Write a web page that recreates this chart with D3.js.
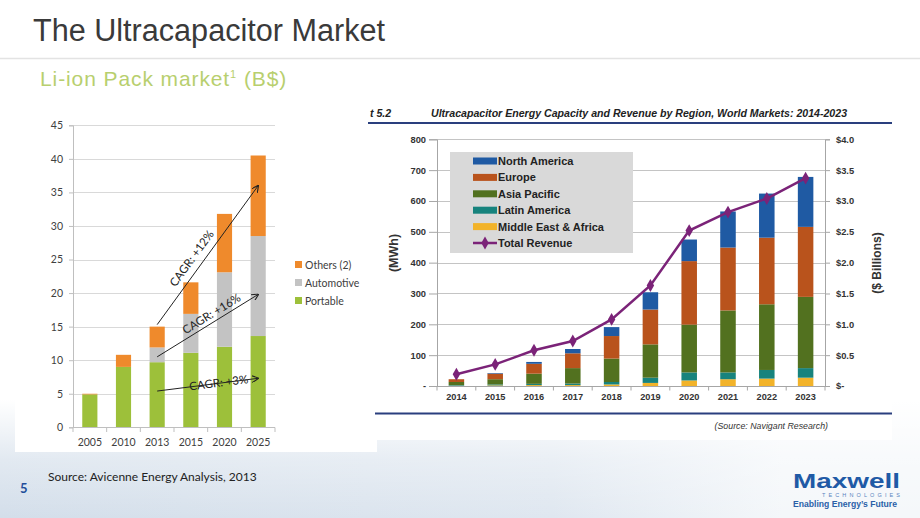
<!DOCTYPE html>
<html><head><meta charset="utf-8">
<script src="https://cdn.jsdelivr.net/npm/d3@7"></script>
<style>
html,body{margin:0;padding:0;background:#fff;}
svg{display:block;}
</style></head>
<body>
<svg id="c" width="920" height="518"></svg>
<script>
// ---------- DATA: left chart (Li-ion pack market, B$) ----------
const leftYears = ["2005","2010","2013","2015","2020","2025"];
const portable   = [4.9, 9.0, 9.7, 11.1, 12.0, 13.6];
const automotive = [0.0, 0.0, 2.2, 5.8, 11.1, 14.9];
const others     = [0.1, 1.8, 3.1, 4.7, 8.7, 12.0];
const leftTicks  = [0,5,10,15,20,25,30,35,40,45];
const leftSeries = ["Portable","Automotive","Others (2)"];
const cagrLabels = ["CAGR: +12%","CAGR: +16%","CAGR: +3%"];
const cagrStart  = [15.3, 10.5, 5.4];
const cagrEnd    = [36.0, 19.8, 7.3];

// ---------- DATA: right chart (Ultracapacitor MWh & revenue) ----------
const rightYears   = ["2014","2015","2016","2017","2018","2019","2020","2021","2022","2023"];
const middleEast   = [1, 2, 3, 3, 5, 10, 18, 22, 24, 27];
const latinAmerica = [2, 3, 4, 5, 8, 17, 26, 22, 28, 31];
const asiaPacific  = [10, 17, 33, 50, 76, 108, 155, 201, 213, 231];
const europe       = [9, 18, 32, 48, 73, 113, 206, 204, 216, 227];
const northAmerica = [0, 2, 6, 14, 29, 56, 70, 117, 143, 162];
const revenue      = [0.19, 0.35, 0.58, 0.73, 1.08, 1.63, 2.52, 2.82, 3.04, 3.37];
const mwhTicks     = [0,100,200,300,400,500,600,700,800];
const revTicks     = [0,0.5,1,1.5,2,2.5,3,3.5,4];
const rightSeries  = ["Middle East & Africa","Latin America","Asia Pacific","Europe","North America"];
const legendOrder  = ["North America","Europe","Asia Pacific","Latin America","Middle East & Africa","Total Revenue"];

const svg = d3.select("#c");
const defs = svg.append("defs");

// ---------- background ----------
const gH = defs.append("linearGradient").attr("id","gh").attr("x1","0").attr("x2","1").attr("y1","0").attr("y2","0");
gH.append("stop").attr("offset","0").attr("stop-color","#d3deea");
gH.append("stop").attr("offset","0.6").attr("stop-color","#dfe7f0");
gH.append("stop").attr("offset","0.85").attr("stop-color","#f4f7fa");
gH.append("stop").attr("offset","1").attr("stop-color","#f4f7fa");
const gV = defs.append("linearGradient").attr("id","gv").attr("x1","0").attr("x2","0").attr("y1","0").attr("y2","1");
gV.append("stop").attr("offset","0").attr("stop-color","#fff").attr("stop-opacity",1);
gV.append("stop").attr("offset","0.5").attr("stop-color","#fff").attr("stop-opacity",0.35);
gV.append("stop").attr("offset","1").attr("stop-color","#fff").attr("stop-opacity",0);
svg.append("rect").attr("x",0).attr("y",0).attr("width",920).attr("height",518).attr("fill","#fff");
svg.append("rect").attr("x",0).attr("y",400).attr("width",920).attr("height",118).attr("fill","url(#gh)");
svg.append("rect").attr("x",0).attr("y",400).attr("width",920).attr("height",118).attr("fill","url(#gv)");

// header
svg.append("text").attr("x",33).attr("y",41).attr("font-family","Liberation Sans, Arial, sans-serif")
  .attr("font-size",30.6).attr("fill","#3a3a3a").text("The Ultracapacitor Market");
svg.append("line").attr("x1",0).attr("x2",920).attr("y1",58.5).attr("y2",58.5).attr("stroke","#e3e3e3").attr("stroke-width",1.5);
const sub = svg.append("text").attr("x",40).attr("y",86).attr("font-family","Liberation Sans, Arial, sans-serif")
  .attr("font-size",21).attr("letter-spacing",0.9).attr("fill","#b8cf6e");
sub.append("tspan").text("Li-ion Pack market");
sub.append("tspan").attr("font-size",11).attr("dy",-8).text("1");
sub.append("tspan").attr("dy",8).text(" (B$)");

// ---------- LEFT CHART ----------
svg.append("rect").attr("x",15).attr("y",108).attr("width",362).attr("height",344).attr("fill","#fff");
const L = svg.append("g").attr("font-family","Lato, 'Open Sans', sans-serif");
const lx = d3.scaleBand().domain(leftYears).range([73,275]).paddingInner(0.55).paddingOuter(0.275);
const ly = d3.scaleLinear().domain([0,45]).range([427.3,125.3]);
const lColors = {"Portable":"#9dc03a","Automotive":"#c3c3c3","Others (2)":"#ef8a2c"};
// grid
L.append("g").selectAll("line").data(leftTicks.filter(d=>d>0)).join("line")
  .attr("x1",73).attr("x2",275).attr("y1",d=>Math.round(ly(d))+0.5).attr("y2",d=>Math.round(ly(d))+0.5)
  .attr("stroke","#d9d9d9").attr("stroke-width",1);
const lAxisY = L.append("g").attr("transform","translate(73,0)")
  .call(d3.axisLeft(ly).tickValues(leftTicks).tickSize(4).tickPadding(6));
lAxisY.select(".domain").attr("stroke","#bfbfbf");
lAxisY.selectAll(".tick line").attr("stroke","#bfbfbf");
lAxisY.selectAll("text").attr("font-size",10.5).attr("fill","#404040").attr("font-family","Lato, sans-serif");

const leftRows = leftYears.map((y,i)=>({year:y,"Portable":portable[i],"Automotive":automotive[i],"Others (2)":others[i]}));
const lStack = d3.stack().keys(leftSeries)(leftRows);
L.append("g").selectAll("g").data(lStack).join("g").attr("fill",d=>lColors[d.key])
  .selectAll("rect").data(d=>d).join("rect")
  .attr("x",d=>lx(d.data.year)).attr("width",lx.bandwidth())
  .attr("y",d=>ly(d[1])).attr("height",d=>Math.max(0,ly(d[0])-ly(d[1])));

// x axis
L.append("line").attr("x1",73).attr("x2",275).attr("y1",427.5).attr("y2",427.5).attr("stroke","#bfbfbf");
const lstep = lx.step();
L.append("g").selectAll("line").data(d3.range(leftYears.length+1)).join("line")
  .attr("x1",i=>73+i*lstep).attr("x2",i=>73+i*lstep).attr("y1",427.5).attr("y2",432)
  .attr("stroke","#bfbfbf");
L.append("g").selectAll("text").data(leftYears).join("text")
  .attr("x",d=>lx(d)+lx.bandwidth()/2).attr("y",446).attr("text-anchor","middle")
  .attr("font-size",10.5).attr("fill","#404040").text(d=>d);

// legend
const lLeg = L.append("g");
["Others (2)","Automotive","Portable"].forEach((k,i)=>{
  const yy = 265 + i*18;
  lLeg.append("rect").attr("x",295).attr("y",yy-4).attr("width",7).attr("height",7).attr("fill",lColors[k]);
  lLeg.append("text").attr("x",305).attr("y",yy+3.5).attr("font-size",10.5).attr("fill","#404040").text(k);
});

// CAGR arrows
defs.append("marker").attr("id","arr").attr("viewBox","0 0 10 10").attr("refX",9).attr("refY",5)
  .attr("markerWidth",7).attr("markerHeight",7).attr("orient","auto")
  .append("path").attr("d","M0,0 L10,5 L0,10").attr("fill","none").attr("stroke","#222").attr("stroke-width",1.6);
const x0 = lx("2013")+lx.bandwidth()/2, x1 = lx("2025")+lx.bandwidth()/2;
const tpos = [0.43,0.58,0.61], toff=[-7,-4,3.5];
cagrLabels.forEach((lab,i)=>{
  const y0 = ly(cagrStart[i]), y1 = ly(cagrEnd[i]);
  L.append("line").attr("x1",x0).attr("y1",y0).attr("x2",x1).attr("y2",y1)
    .attr("stroke","#222").attr("stroke-width",1).attr("marker-end","url(#arr)");
  const ang = Math.atan2(y1-y0,x1-x0)*180/Math.PI;
  const px = x0+(x1-x0)*tpos[i], py = y0+(y1-y0)*tpos[i];
  L.append("text").attr("transform",`translate(${px},${py}) rotate(${ang})`)
    .attr("y",toff[i]).attr("text-anchor","middle").attr("font-size",11.5).attr("fill","#222").text(lab);
});

// ---------- RIGHT CHART ----------
const R = svg.append("g").attr("font-family","Liberation Sans, Arial, sans-serif");
R.append("rect").attr("x",362).attr("y",100).attr("width",530).attr("height",340).attr("fill","#fff");
R.append("text").attr("x",370).attr("y",117).attr("font-size",10.6).attr("font-weight","bold").attr("font-style","italic")
  .attr("fill","#222").text("t 5.2");
R.append("text").attr("x",431).attr("y",117).attr("font-size",10.6).attr("font-weight","bold").attr("font-style","italic")
  .attr("fill","#222").text("Ultracapacitor Energy Capacity and Revenue by Region, World Markets: 2014-2023");
R.append("line").attr("x1",368).attr("x2",892).attr("y1",123).attr("y2",123).attr("stroke","#2a3f7e").attr("stroke-width",2);
R.append("line").attr("x1",375).attr("x2",892).attr("y1",413.5).attr("y2",413.5).attr("stroke","#2a3f7e").attr("stroke-width",2);
R.append("text").attr("x",828).attr("y",429).attr("text-anchor","end").attr("font-size",8.8).attr("font-style","italic")
  .attr("fill","#333").text("(Source: Navigant Research)");

const rx = d3.scaleBand().domain(rightYears).range([437,825]).paddingInner(0.6).paddingOuter(0.3);
const ry = d3.scaleLinear().domain([0,800]).range([386,139.3]);
const ry2 = d3.scaleLinear().domain([0,4]).range([386,139.3]);
const rColors = {"North America":"#1f5aa3","Europe":"#b9531c","Asia Pacific":"#52711f","Latin America":"#17837d","Middle East & Africa":"#f2b32a"};

R.append("g").selectAll("line").data(mwhTicks.filter(d=>d>0)).join("line")
  .attr("x1",437).attr("x2",825).attr("y1",d=>Math.round(ry(d))+0.5).attr("y2",d=>Math.round(ry(d))+0.5)
  .attr("stroke","#c4c4c4");
const rAxL = R.append("g").attr("transform","translate(437,0)")
  .call(d3.axisLeft(ry).tickValues(mwhTicks).tickSize(8).tickPadding(3).tickFormat(d=>d===0?"-":d));
rAxL.select(".domain").attr("stroke","#a6a6a6");
rAxL.selectAll(".tick line").attr("stroke","#a6a6a6");
rAxL.selectAll("text").attr("font-size",9.3).attr("font-weight","bold").attr("fill","#333").attr("font-family","Liberation Sans, Arial, sans-serif");
const rAxR = R.append("g").attr("transform","translate(825,0)")
  .call(d3.axisRight(ry2).tickValues(revTicks).tickSize(5).tickPadding(6).tickFormat(d=>d===0?"$-":"$"+d3.format(".1f")(d)));
rAxR.select(".domain").attr("stroke","#a6a6a6");
rAxR.selectAll(".tick line").attr("stroke","#a6a6a6");
rAxR.selectAll("text").attr("font-size",9.3).attr("font-weight","bold").attr("fill","#333").attr("font-family","Liberation Sans, Arial, sans-serif");

R.append("text").attr("transform","translate(398,253) rotate(-90)").attr("text-anchor","middle")
  .attr("font-size",12.5).attr("font-weight","bold").attr("fill","#333").text("(MWh)");
R.append("text").attr("transform","translate(881,263) rotate(-90)").attr("text-anchor","middle")
  .attr("font-size",12).attr("font-weight","bold").attr("fill","#333").text("($ Billions)");

const rightRows = rightYears.map((y,i)=>({year:y,"Middle East & Africa":middleEast[i],"Latin America":latinAmerica[i],
  "Asia Pacific":asiaPacific[i],"Europe":europe[i],"North America":northAmerica[i]}));
const rStack = d3.stack().keys(rightSeries)(rightRows);
R.append("g").selectAll("g").data(rStack).join("g").attr("fill",d=>rColors[d.key])
  .selectAll("rect").data(d=>d).join("rect")
  .attr("x",d=>rx(d.data.year)).attr("width",rx.bandwidth())
  .attr("y",d=>ry(d[1])).attr("height",d=>Math.max(0,ry(d[0])-ry(d[1])));

// x axis
R.append("line").attr("x1",437).attr("x2",825).attr("y1",386.5).attr("y2",386.5).attr("stroke","#a6a6a6");
const rstep = rx.step();
R.append("g").selectAll("line").data(d3.range(rightYears.length+1)).join("line")
  .attr("x1",i=>437+i*rstep).attr("x2",i=>437+i*rstep).attr("y1",386.5).attr("y2",390.5).attr("stroke","#a6a6a6");
R.append("g").selectAll("text").data(rightYears).join("text")
  .attr("x",d=>rx(d)+rx.bandwidth()/2).attr("y",399.5).attr("text-anchor","middle")
  .attr("font-size",9.2).attr("font-weight","bold").attr("fill","#333").text(d=>d);

// revenue line
const pts = rightYears.map((y,i)=>[rx(y)+rx.bandwidth()/2, ry2(revenue[i])]);
R.append("path").attr("d",d3.line()(pts)).attr("fill","none").attr("stroke","#7b2378").attr("stroke-width",2.5);
const diamond = d3.symbol().type(d3.symbolDiamond).size(48);
R.append("g").selectAll("path").data(pts).join("path")
  .attr("transform",d=>`translate(${d[0]},${d[1]})`).attr("d",diamond).attr("fill","#7b2378");

// legend
const rl = R.append("g");
rl.append("rect").attr("x",450).attr("y",152).attr("width",183).attr("height",101).attr("fill","#d9d9d9");
legendOrder.forEach((k,i)=>{
  const yy = 161 + i*16.4;
  if (k==="Total Revenue"){
    rl.append("line").attr("x1",473).attr("x2",497).attr("y1",yy).attr("y2",yy).attr("stroke","#7b2378").attr("stroke-width",2.5);
    rl.append("path").attr("transform",`translate(485,${yy})`).attr("d",diamond).attr("fill","#7b2378");
  } else {
    rl.append("rect").attr("x",473).attr("y",yy-3.5).attr("width",24).attr("height",7).attr("fill",rColors[k]);
  }
  rl.append("text").attr("x",498).attr("y",yy+4).attr("font-size",11).attr("font-weight","bold").attr("fill","#222").text(k);
});

// ---------- footer ----------
svg.append("text").attr("x",48).attr("y",481).attr("font-family","Lato, 'Open Sans', sans-serif").attr("font-size",12)
  .attr("fill","#222").text("Source: Avicenne Energy Analysis, 2013");
svg.append("text").attr("x",20).attr("y",493).attr("font-family","Lato, 'Open Sans', sans-serif").attr("font-size",13)
  .attr("font-weight","bold").attr("fill","#1f4e9a").text("5");
svg.append("text").attr("x",793).attr("y",487.5).attr("font-family","Liberation Sans, Arial, sans-serif").attr("font-size",20.5)
  .attr("font-weight","bold").attr("fill","#1f5aa6").attr("textLength",107).attr("lengthAdjust","spacingAndGlyphs").text("Maxwell");
svg.append("text").attr("x",822).attr("y",497).attr("font-family","Liberation Sans, Arial, sans-serif").attr("font-size",5.5)
  .attr("fill","#5a84c0").attr("textLength",78).attr("lengthAdjust","spacing").text("TECHNOLOGIES");
svg.append("text").attr("x",793).attr("y",506.5).attr("font-family","Liberation Sans, Arial, sans-serif").attr("font-size",8.2)
  .attr("font-weight","bold").attr("fill","#2a5fa8").attr("textLength",104).attr("lengthAdjust","spacingAndGlyphs").text("Enabling Energy’s Future");
</script>
</body></html>
